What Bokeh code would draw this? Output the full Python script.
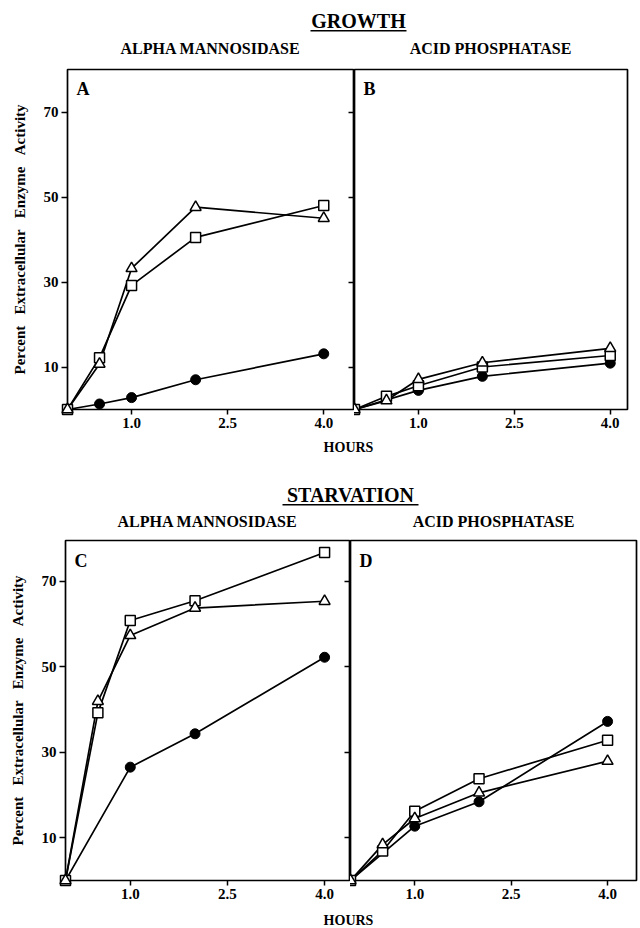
from bokeh.plotting import figure
from bokeh.layouts import column, row
from bokeh.models import (Range1d, FixedTicker, Label, LinearAxis, BoxAnnotation,
                          NumeralTickFormatter, CustomJSTickFormatter)
from bokeh.embed import file_html
from bokeh.resources import INLINE

FONT = "Liberation Serif"

# ---------------- data ----------------
hours = [0.0, 0.5, 1.0, 2.0, 4.0]
hours_circle = [0.0, 1.0, 2.0, 4.0]
x_ticks = [1.0, 2.5, 4.0]
y_ticks = [10, 30, 50, 70]

growth_mann_triangle = [0.0, 10.7, 33.2, 47.6, 45.0]
growth_mann_square = [0.0, 12.2, 29.2, 40.5, 48.0]
growth_mann_circle = [0.0, 1.3, 2.8, 7.0, 13.1]

growth_acid_triangle = [0.0, 2.1, 7.1, 11.0, 14.4]
growth_acid_square = [0.0, 3.1, 5.6, 10.0, 12.7]
growth_acid_circle = [0.0, 4.5, 7.8, 10.9]

starv_mann_triangle = [0.0, 41.9, 57.3, 63.7, 65.3]
starv_mann_square = [0.0, 39.2, 60.8, 65.4, 76.7]
starv_mann_circle = [0.0, 26.5, 34.3, 52.2]

starv_acid_triangle = [0.0, 8.4, 14.5, 20.5, 27.9]
starv_acid_square = [0.0, 6.9, 16.2, 23.8, 32.8]
starv_acid_circle = [0.0, 12.7, 18.4, 37.2]

GAP = "\u00a0" * 3
Y_LABEL = "Percent" + GAP + "Extracellular" + GAP + "Enzyme" + GAP + "Activity"


def make_panel(fig_w, fig_h, left_b, right_b, x_end, y_end, letter,
               x_full, tri, sq, x_circ, circ, first):
    p = figure(width=fig_w, height=fig_h,
               x_range=Range1d(0, x_end), y_range=Range1d(0, y_end),
               output_backend="svg", toolbar_location=None,
               x_axis_location=None, y_axis_location=None,
               min_border_left=left_b, min_border_right=right_b,
               min_border_top=3, min_border_bottom=25)
    p.grid.visible = False
    p.outline_line_color = "black"
    p.outline_line_width = 1.7
    p.background_fill_color = "white"
    p.border_fill_color = "white"

    xa = LinearAxis(ticker=FixedTicker(ticks=x_ticks),
                    formatter=NumeralTickFormatter(format="0.0"),
                    major_tick_in=0, major_tick_out=5,
                    minor_tick_in=0, minor_tick_out=0,
                    axis_line_color=None, major_tick_line_width=1.5,
                    major_label_standoff=3,
                    major_label_text_font=FONT,
                    major_label_text_font_style="bold",
                    major_label_text_font_size="15px",
                    major_label_text_color="black")
    p.add_layout(xa, "below")

    if first:
        ya = LinearAxis(ticker=FixedTicker(ticks=y_ticks),
                        major_tick_in=0, major_tick_out=6,
                        minor_tick_in=0, minor_tick_out=0,
                        axis_line_color=None, major_tick_line_width=1.5,
                        major_label_standoff=3,
                        major_label_text_font=FONT,
                        major_label_text_font_style="bold",
                        major_label_text_font_size="15px",
                        major_label_text_color="black",
                        axis_label=Y_LABEL,
                        axis_label_standoff=13,
                        axis_label_text_font=FONT,
                        axis_label_text_font_style="bold",
                        axis_label_text_font_size="15px",
                        axis_label_text_color="black")
        p.add_layout(ya, "left")
        ra = LinearAxis(ticker=FixedTicker(ticks=y_ticks),
                        formatter=CustomJSTickFormatter(code="return ''"),
                        major_tick_in=6, major_tick_out=0,
                        minor_tick_in=0, minor_tick_out=0,
                        axis_line_color=None, major_tick_line_width=1.5,
                        major_label_standoff=0,
                        major_label_text_font_size="1px")
        p.add_layout(ra, "right")

    p.line(x_full, tri, line_color="black", line_width=1.7)
    p.line(x_full, sq, line_color="black", line_width=1.7)
    p.line(x_circ, circ, line_color="black", line_width=1.7)
    p.scatter(x_circ, circ, marker="circle", size=10,
              fill_color="black", line_color="black", level="overlay")
    p.scatter(x_full, sq, marker="square", size=10,
              fill_color="white", line_color="black", line_width=1.5,
              level="overlay")
    p.scatter(x_full, tri, marker="triangle", size=11,
              fill_color="white", line_color="black", line_width=1.5,
              level="overlay")

    p.add_layout(Label(x=0.14, y=y_end - 4.7, text=letter,
                       text_font=FONT, text_font_style="bold",
                       text_font_size="18px", text_baseline="middle",
                       text_color="black"))
    return p


def make_strip(w, h, items, underlines):
    s = figure(width=w, height=h, x_range=Range1d(0, w), y_range=Range1d(h, 0),
               output_backend="svg", toolbar_location=None,
               x_axis_location=None, y_axis_location=None,
               min_border_left=0, min_border_right=0,
               min_border_top=0, min_border_bottom=0)
    s.grid.visible = False
    s.outline_line_color = None
    s.background_fill_color = "white"
    s.border_fill_color = "white"
    for (x, y, txt, size) in items:
        s.add_layout(Label(x=x, y=y, text=txt, text_align="center",
                           text_baseline="middle", text_font=FONT,
                           text_font_style="bold", text_font_size=size,
                           text_color="black"))
    for (l, r, t, b) in underlines:
        s.add_layout(BoxAnnotation(left=l, right=r, top=t, bottom=b,
                                   fill_color="black", fill_alpha=1,
                                   line_color=None))
    return s


W = 639

header1 = make_strip(W, 66,
                     [(358, 20, "GROWTH", "20px"),
                      (210, 48, "ALPHA MANNOSIDASE", "16px"),
                      (490, 48, "ACID PHOSPHATASE", "16px")],
                     [(310, 406, 29.5, 31)])

pA = make_panel(354, 368, 67, 0, 4.48, 80, "A", hours,
                growth_mann_triangle, growth_mann_square,
                hours, growth_mann_circle, True)
pB = make_panel(277, 368, 0, 4, 4.27, 80, "B", hours,
                growth_acid_triangle, growth_acid_square,
                hours_circle, growth_acid_circle, False)

mid = make_strip(W, 103,
                 [(348, 13, "HOURS", "14px"),
                  (350, 60, "STARVATION", "20px"),
                  (207, 87, "ALPHA MANNOSIDASE", "16px"),
                  (493, 87, "ACID PHOSPHATASE", "16px")],
                 [(282, 418, 69.5, 71)])

pC = make_panel(350, 368, 65, 0, 4.40, 79.5, "C", hours,
                starv_mann_triangle, starv_mann_square,
                hours_circle, starv_mann_circle, True)
pD = make_panel(289, 368, 0, 3, 4.45, 79.5, "D", hours,
                starv_acid_triangle, starv_acid_square,
                hours_circle, starv_acid_circle, False)

footer = make_strip(W, 23, [(348, 15, "HOURS", "14px")], [])

layout = column(header1, row(pA, pB), mid, row(pC, pD), footer)

open("out.html", "w").write(file_html(layout, INLINE))
